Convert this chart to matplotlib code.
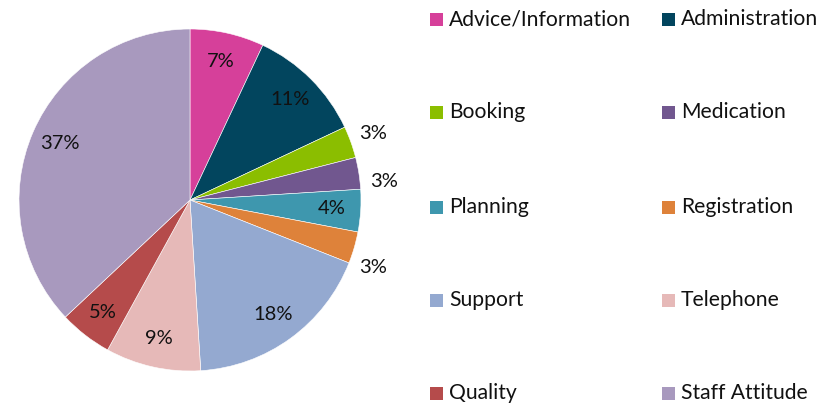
import numpy as np
import matplotlib.pyplot as plt
from matplotlib.patches import Rectangle

categories = ["Advice/Information", "Administration", "Booking", "Medication",
              "Planning", "Registration", "Support", "Telephone", "Quality",
              "Staff Attitude"]
shares = [7, 11, 3, 3, 4, 3, 18, 9, 5, 37]
colors = ["#D6409A", "#02455E", "#8BBE00", "#71578F", "#3E97AE",
          "#DE823A", "#94A9D0", "#E6B9B8", "#B54B4B", "#A899BE"]

plt.rcParams['font.family'] = ['Lato', 'DejaVu Sans']

W, H = 831, 407
fig = plt.figure(figsize=(W / 100, H / 100), dpi=100)

# pie axes: centre (190, 200) px, radius 171 px
cx, cy, r = 190, 200, 171
ax = fig.add_axes([(cx - r) / W, (H - cy - r) / H, 2 * r / W, 2 * r / H])
wedges, _ = ax.pie(shares, colors=colors, startangle=90, counterclock=False,
                   wedgeprops=dict(linewidth=0.4, edgecolor="white"))
ax.set_xlim(-1, 1)
ax.set_ylim(-1, 1)
ax.set_aspect("equal")
ax.axis("off")

# percentage labels: inside for larger slices, just outside for the small ones
# (small outside labels are nudged apart so they don't crowd each other)
nudge = {3: -3.5, 5: -4.0}
for i, (w, v) in enumerate(zip(wedges, shares)):
    mid = np.deg2rad((w.theta1 + w.theta2) / 2 + nudge.get(i, 0.0))
    d = 1.14 if v < 4 else 0.83
    ax.text(d * np.cos(mid), d * np.sin(mid), f"{v}%", ha="center",
            va="center", fontsize=14.5, color="#111111", clip_on=False)

# two-column legend, filled row by row
col_x = [430, 662]
row_y = [19, 112, 207, 300, 393]
sq = 13
for i, (name, c) in enumerate(zip(categories, colors)):
    x = col_x[i % 2]
    y = row_y[i // 2]
    fig.patches.append(Rectangle((x / W, (H - y - sq / 2) / H), sq / W, sq / H,
                                 transform=fig.transFigure, facecolor=c,
                                 edgecolor="none"))
    fig.text((x + sq + 6) / W, (H - y) / H, name, ha="left", va="center",
             fontsize=15.2, color="#111111")

fig.savefig("out.png", dpi=100, facecolor="white")
